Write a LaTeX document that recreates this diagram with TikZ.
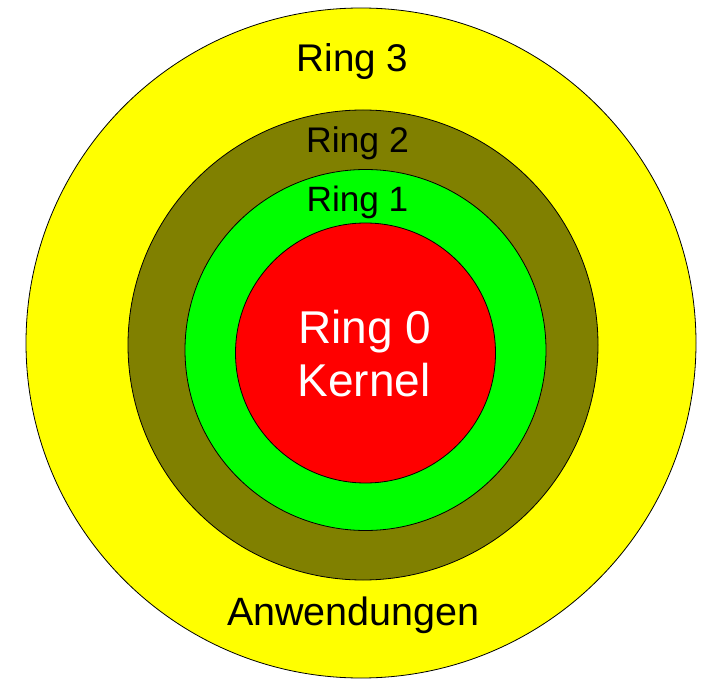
\documentclass[tikz,border=0pt]{standalone}
\usepackage{fontspec}
\setmainfont{Liberation Sans}
\definecolor{ringyellow}{HTML}{FFFF00}
\definecolor{ringolive}{HTML}{808000}
\definecolor{ringgreen}{HTML}{00FF00}
\definecolor{ringred}{HTML}{FF0000}
\begin{document}
\begin{tikzpicture}[x=1pt,y=-1pt,
  ring/.style={circle,draw=black,line width=0.8pt,inner sep=0pt,minimum size=#1},
  lbl/.style={anchor=base,inner sep=0pt,font=\fontsize{#1}{#1}\selectfont}]
\useasboundingbox (0,0) rectangle (702,679);
\node[ring=670pt,fill=ringyellow] (r3c) at (361,343) {};
\node[ring=470pt,fill=ringolive] (r2c) at (363,345) {};
\node[ring=361pt,fill=ringgreen] (r1c) at (365.5,350) {};
\node[ring=260pt,fill=ringred] (r0c) at (365.5,353) {};
\node[lbl=38.6] (t3) at (352.5,71.7) {Ring 3};
\node[lbl=35.6] (t2) at (357.5,152.7) {Ring 2};
\node[lbl=35.2] (t1) at (357.5,211.5) {Ring 1};
\node[lbl=46,text=white] (t0) at (365,343.3) {Ring 0};
\node[lbl=46,text=white] (tk) at (364,396) {Kernel};
\node[lbl=39.5] (ta) at (353.3,625) {Anwendungen};
\end{tikzpicture}
\end{document}
